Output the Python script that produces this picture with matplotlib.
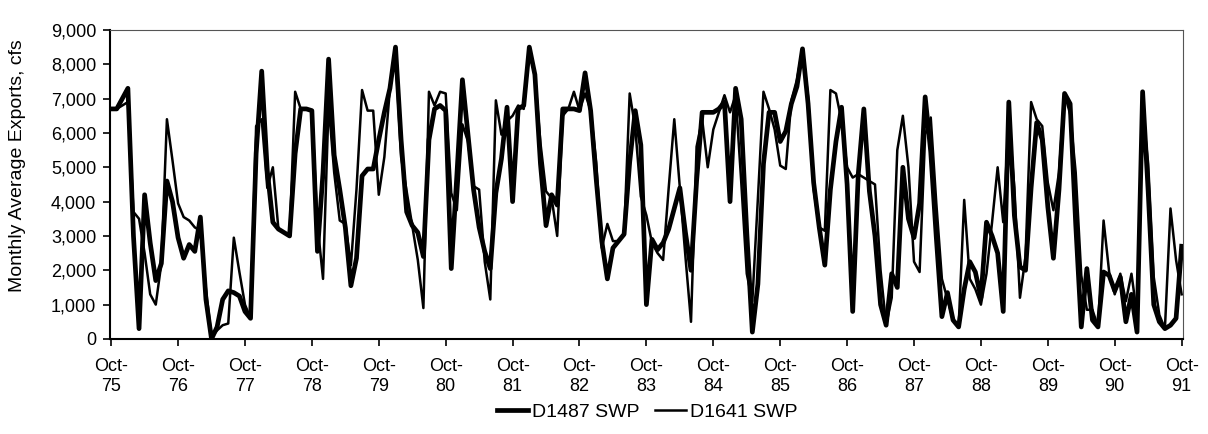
import matplotlib
matplotlib.use("Agg")
import matplotlib.pyplot as plt
from matplotlib.ticker import StrMethodFormatter

plt.rcParams["font.family"] = ["Liberation Sans", "DejaVu Sans"]

# monthly values, Oct-75 .. Oct-91 (one row per water year, Oct..Sep)
d1487 = [
    6700, 6700, 7000, 7300, 3000, 300, 4200, 2800, 1700, 2200, 4600, 4000,
    2950, 2350, 2750, 2550, 3550, 1150, 0, 350, 1150, 1400, 1350, 1250,
    800, 600, 5400, 7800, 4900, 3400, 3200, 3100, 3000, 5400, 6700, 6700,
    6650, 2550, 4850, 8150, 5350, 4350, 3250, 1550, 2350, 4750, 4950, 4950,
    5800, 6600, 7300, 8500, 5800, 3700, 3300, 3100, 2400, 5800, 6700, 6800,
    6650, 2050, 4750, 7550, 5950, 4350, 3250, 2550, 2050, 4250, 5250, 6750,
    4000, 6700, 6800, 8500, 7700, 5100, 3300, 4200, 3900, 6700, 6700, 6700,
    6650, 7750, 6650, 4650, 2850, 1750, 2650, 2850, 3050, 5150, 6650, 5650,
    1000, 2900, 2600, 2800, 3200, 3800, 4400, 3100, 2000, 4600, 6600, 6600,
    6600, 6700, 6900, 4000, 7300, 6400, 3100, 200, 1600, 5100, 6600, 6600,
    5750, 6050, 6850, 7350, 8450, 6850, 4550, 3250, 2150, 4350, 5750, 6750,
    4500, 800, 4800, 6700, 4300, 3000, 1000, 400, 1900, 1500, 5000, 3500,
    2950, 3950, 7050, 5450, 2950, 650, 1350, 550, 350, 1450, 2250, 1950,
    1200, 3400, 3000, 2500, 800, 6900, 3600, 2100, 2000, 4400, 6300, 5800,
    3850, 2350, 4350, 7150, 6850, 3350, 350, 2050, 550, 350, 1950, 1850,
    1400, 1800, 500, 1300, 200, 7200, 4300, 1000, 500, 300, 400, 600,
    2700,
]
d1641 = [
    6700, 6700, 6800, 6900, 3700, 3500, 2500, 1300, 1000, 2200, 6400, 5200,
    3950, 3550, 3450, 3250, 3150, 1450, 50, 250, 400, 450, 2950, 1950,
    1000, 600, 6200, 6400, 4400, 5000, 3200, 3100, 3000, 7200, 6700, 6700,
    6650, 3350, 1750, 6850, 4850, 3450, 3350, 2150, 4350, 7250, 6650, 6650,
    4200, 5300, 7300, 8300, 5300, 4300, 3300, 2300, 900, 7200, 6800, 7200,
    7150, 4250, 3750, 6250, 5750, 4450, 4350, 2250, 1150, 6950, 5950, 6350,
    6500, 6800, 6700, 8400, 7700, 5700, 4300, 4100, 3000, 6500, 6700, 7200,
    6650, 7150, 6650, 5150, 2650, 3350, 2850, 2850, 3050, 7150, 6150, 4150,
    3600, 2800, 2500, 2300, 4400, 6400, 4400, 2400, 500, 5600, 6400, 5000,
    6100, 6600, 7100, 6600, 7100, 4600, 1900, 1100, 4100, 7200, 6700, 6100,
    5050, 4950, 6950, 7550, 8450, 7050, 4350, 3250, 3150, 7250, 7150, 6350,
    5000, 4700, 4800, 4700, 4600, 4500, 2000, 400, 1200, 5500, 6500, 5000,
    2250, 1950, 5950, 6450, 3950, 1750, 1150, 550, 350, 4050, 1750, 1450,
    1000, 1900, 3400, 5000, 3400, 6400, 4400, 1200, 2400, 6900, 6400, 6200,
    4550, 3750, 4850, 7150, 6550, 4850, 1850, 850, 850, 350, 3450, 1950,
    1300, 1900, 1100, 1900, 700, 6700, 5100, 1800, 700, 300, 3800, 2300,
    1300,
]
years = ["75", "76", "77", "78", "79", "80", "81", "82", "83",
         "84", "85", "86", "87", "88", "89", "90", "91"]

months = list(range(len(d1487)))

fig = plt.figure(figsize=(12.08, 4.34), dpi=100)
ax = fig.add_axes([0.0911, 0.219, 0.888, 0.712])
ax.plot(months, d1487, color="black", lw=3.4, solid_joinstyle="round",
        label="D1487 SWP")
ax.plot(months, d1641, color="black", lw=1.8, solid_joinstyle="round",
        label="D1641 SWP")

ax.set_xlim(-0.2, 192.2)
ax.set_ylim(0, 9000)
ax.set_yticks(range(0, 9001, 1000))
ax.yaxis.set_major_formatter(StrMethodFormatter("{x:,.0f}"))
ax.set_xticks(range(0, 193, 12))
ax.set_xticklabels([f"Oct-\n{y}" for y in years])
ax.tick_params(axis="both", direction="out", length=5, width=1.2,
               labelsize=13, colors="black")
ax.tick_params(axis="x", pad=9)
ax.tick_params(axis="y", pad=5)
ax.set_ylabel("Monthly Average Exports, cfs", fontsize=14)
ax.yaxis.set_label_coords(-0.078, 0.56)

for s in ["left", "bottom"]:
    ax.spines[s].set_linewidth(1.5)
for s in ["top", "right"]:
    ax.spines[s].set_color("#555555")
    ax.spines[s].set_linewidth(0.8)

fig.legend(loc="center", bbox_to_anchor=(0.536, 0.051), ncol=2,
           frameon=False, fontsize=14, handlelength=1.6,
           handletextpad=0.2, columnspacing=0.8)

fig.savefig("out.png", dpi=100)
plt.close(fig)
